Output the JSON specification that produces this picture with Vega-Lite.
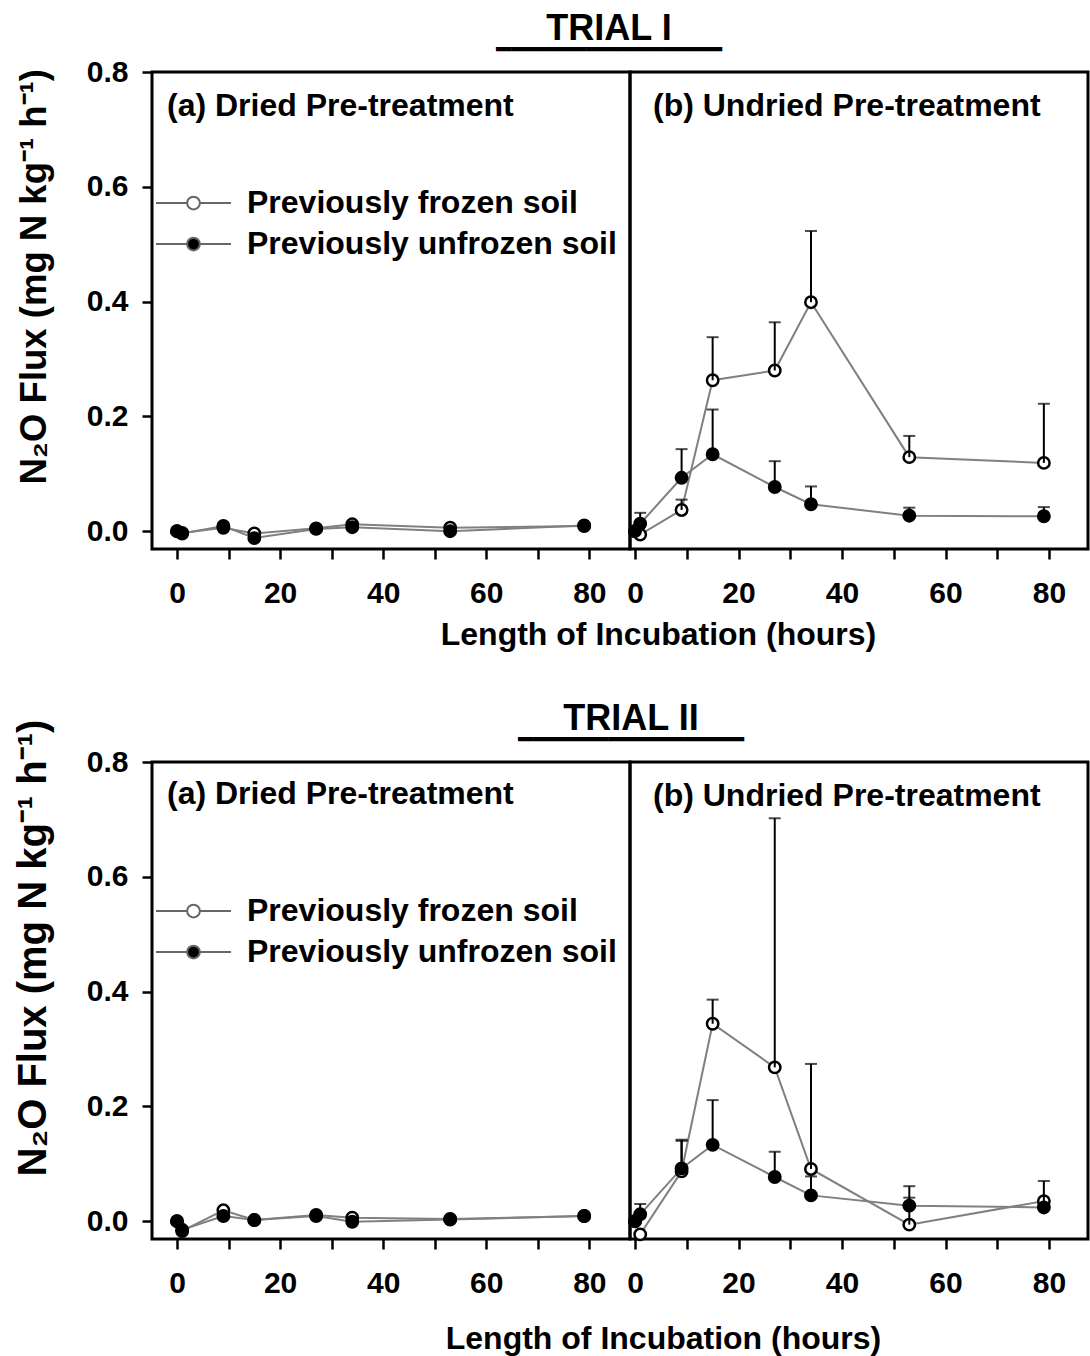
{
  "$schema": "https://vega.github.io/schema/vega-lite/v6.json",
  "padding": {"left": 11, "top": 10, "right": 0, "bottom": 0},
  "data": {
    "values": [
      {"trial": "I", "pre": "Dried", "soil": "Previously frozen soil", "hr": 0, "flux": 0.0, "upper": null},
      {"trial": "I", "pre": "Dried", "soil": "Previously frozen soil", "hr": 1, "flux": -0.003, "upper": null},
      {"trial": "I", "pre": "Dried", "soil": "Previously frozen soil", "hr": 9, "flux": 0.006, "upper": null},
      {"trial": "I", "pre": "Dried", "soil": "Previously frozen soil", "hr": 15, "flux": -0.004, "upper": null},
      {"trial": "I", "pre": "Dried", "soil": "Previously frozen soil", "hr": 27, "flux": 0.005, "upper": null},
      {"trial": "I", "pre": "Dried", "soil": "Previously frozen soil", "hr": 34, "flux": 0.012, "upper": null},
      {"trial": "I", "pre": "Dried", "soil": "Previously frozen soil", "hr": 53, "flux": 0.006, "upper": null},
      {"trial": "I", "pre": "Dried", "soil": "Previously frozen soil", "hr": 79, "flux": 0.009, "upper": null},
      {"trial": "I", "pre": "Dried", "soil": "Previously unfrozen soil", "hr": 0, "flux": 0.0, "upper": null},
      {"trial": "I", "pre": "Dried", "soil": "Previously unfrozen soil", "hr": 1, "flux": -0.004, "upper": null},
      {"trial": "I", "pre": "Dried", "soil": "Previously unfrozen soil", "hr": 9, "flux": 0.009, "upper": null},
      {"trial": "I", "pre": "Dried", "soil": "Previously unfrozen soil", "hr": 15, "flux": -0.012, "upper": null},
      {"trial": "I", "pre": "Dried", "soil": "Previously unfrozen soil", "hr": 27, "flux": 0.004, "upper": null},
      {"trial": "I", "pre": "Dried", "soil": "Previously unfrozen soil", "hr": 34, "flux": 0.007, "upper": null},
      {"trial": "I", "pre": "Dried", "soil": "Previously unfrozen soil", "hr": 53, "flux": 0.0, "upper": null},
      {"trial": "I", "pre": "Dried", "soil": "Previously unfrozen soil", "hr": 79, "flux": 0.01, "upper": null},
      {"trial": "I", "pre": "Undried", "soil": "Previously frozen soil", "hr": 0, "flux": 0.0, "upper": null},
      {"trial": "I", "pre": "Undried", "soil": "Previously frozen soil", "hr": 1, "flux": -0.006, "upper": null},
      {"trial": "I", "pre": "Undried", "soil": "Previously frozen soil", "hr": 9, "flux": 0.037, "upper": 0.055},
      {"trial": "I", "pre": "Undried", "soil": "Previously frozen soil", "hr": 15, "flux": 0.263, "upper": 0.338},
      {"trial": "I", "pre": "Undried", "soil": "Previously frozen soil", "hr": 27, "flux": 0.28, "upper": 0.364},
      {"trial": "I", "pre": "Undried", "soil": "Previously frozen soil", "hr": 34, "flux": 0.399, "upper": 0.523},
      {"trial": "I", "pre": "Undried", "soil": "Previously frozen soil", "hr": 53, "flux": 0.129, "upper": 0.166},
      {"trial": "I", "pre": "Undried", "soil": "Previously frozen soil", "hr": 79, "flux": 0.119, "upper": 0.222},
      {"trial": "I", "pre": "Undried", "soil": "Previously unfrozen soil", "hr": 0, "flux": 0.0, "upper": null},
      {"trial": "I", "pre": "Undried", "soil": "Previously unfrozen soil", "hr": 1, "flux": 0.013, "upper": 0.032},
      {"trial": "I", "pre": "Undried", "soil": "Previously unfrozen soil", "hr": 9, "flux": 0.093, "upper": 0.143},
      {"trial": "I", "pre": "Undried", "soil": "Previously unfrozen soil", "hr": 15, "flux": 0.134, "upper": 0.212},
      {"trial": "I", "pre": "Undried", "soil": "Previously unfrozen soil", "hr": 27, "flux": 0.077, "upper": 0.122},
      {"trial": "I", "pre": "Undried", "soil": "Previously unfrozen soil", "hr": 34, "flux": 0.047, "upper": 0.078},
      {"trial": "I", "pre": "Undried", "soil": "Previously unfrozen soil", "hr": 53, "flux": 0.027, "upper": 0.041},
      {"trial": "I", "pre": "Undried", "soil": "Previously unfrozen soil", "hr": 79, "flux": 0.026, "upper": 0.042},
      {"trial": "II", "pre": "Dried", "soil": "Previously frozen soil", "hr": 0, "flux": 0.0, "upper": null},
      {"trial": "II", "pre": "Dried", "soil": "Previously frozen soil", "hr": 1, "flux": -0.017, "upper": null},
      {"trial": "II", "pre": "Dried", "soil": "Previously frozen soil", "hr": 9, "flux": 0.019, "upper": null},
      {"trial": "II", "pre": "Dried", "soil": "Previously frozen soil", "hr": 15, "flux": 0.002, "upper": null},
      {"trial": "II", "pre": "Dried", "soil": "Previously frozen soil", "hr": 27, "flux": 0.011, "upper": null},
      {"trial": "II", "pre": "Dried", "soil": "Previously frozen soil", "hr": 34, "flux": 0.006, "upper": null},
      {"trial": "II", "pre": "Dried", "soil": "Previously frozen soil", "hr": 53, "flux": 0.004, "upper": null},
      {"trial": "II", "pre": "Dried", "soil": "Previously frozen soil", "hr": 79, "flux": 0.009, "upper": null},
      {"trial": "II", "pre": "Dried", "soil": "Previously unfrozen soil", "hr": 0, "flux": 0.0, "upper": null},
      {"trial": "II", "pre": "Dried", "soil": "Previously unfrozen soil", "hr": 1, "flux": -0.015, "upper": null},
      {"trial": "II", "pre": "Dried", "soil": "Previously unfrozen soil", "hr": 9, "flux": 0.009, "upper": null},
      {"trial": "II", "pre": "Dried", "soil": "Previously unfrozen soil", "hr": 15, "flux": 0.002, "upper": null},
      {"trial": "II", "pre": "Dried", "soil": "Previously unfrozen soil", "hr": 27, "flux": 0.009, "upper": null},
      {"trial": "II", "pre": "Dried", "soil": "Previously unfrozen soil", "hr": 34, "flux": -0.001, "upper": null},
      {"trial": "II", "pre": "Dried", "soil": "Previously unfrozen soil", "hr": 53, "flux": 0.003, "upper": null},
      {"trial": "II", "pre": "Dried", "soil": "Previously unfrozen soil", "hr": 79, "flux": 0.009, "upper": null},
      {"trial": "II", "pre": "Undried", "soil": "Previously frozen soil", "hr": 0, "flux": 0.0, "upper": null},
      {"trial": "II", "pre": "Undried", "soil": "Previously frozen soil", "hr": 1, "flux": -0.023, "upper": null},
      {"trial": "II", "pre": "Undried", "soil": "Previously frozen soil", "hr": 9, "flux": 0.087, "upper": 0.142},
      {"trial": "II", "pre": "Undried", "soil": "Previously frozen soil", "hr": 15, "flux": 0.344, "upper": 0.386},
      {"trial": "II", "pre": "Undried", "soil": "Previously frozen soil", "hr": 27, "flux": 0.268, "upper": 0.702},
      {"trial": "II", "pre": "Undried", "soil": "Previously frozen soil", "hr": 34, "flux": 0.091, "upper": 0.274},
      {"trial": "II", "pre": "Undried", "soil": "Previously frozen soil", "hr": 53, "flux": -0.006, "upper": 0.061},
      {"trial": "II", "pre": "Undried", "soil": "Previously frozen soil", "hr": 79, "flux": 0.035, "upper": 0.07},
      {"trial": "II", "pre": "Undried", "soil": "Previously unfrozen soil", "hr": 0, "flux": 0.0, "upper": null},
      {"trial": "II", "pre": "Undried", "soil": "Previously unfrozen soil", "hr": 1, "flux": 0.012, "upper": 0.03},
      {"trial": "II", "pre": "Undried", "soil": "Previously unfrozen soil", "hr": 9, "flux": 0.092, "upper": 0.14},
      {"trial": "II", "pre": "Undried", "soil": "Previously unfrozen soil", "hr": 15, "flux": 0.133, "upper": 0.211},
      {"trial": "II", "pre": "Undried", "soil": "Previously unfrozen soil", "hr": 27, "flux": 0.077, "upper": 0.121},
      {"trial": "II", "pre": "Undried", "soil": "Previously unfrozen soil", "hr": 34, "flux": 0.045, "upper": 0.078},
      {"trial": "II", "pre": "Undried", "soil": "Previously unfrozen soil", "hr": 53, "flux": 0.027, "upper": 0.041},
      {"trial": "II", "pre": "Undried", "soil": "Previously unfrozen soil", "hr": 79, "flux": 0.024, "upper": null}
    ]
  },
  "spacing": 690,
  "bounds": "flush",
  "resolve": {"scale": {"fill": "independent"}, "legend": {"fill": "independent"}},
  "vconcat": [
    {
      "title": {"text": "TRIAL I", "subtitle": "━━━━━━━━━━━━━━━", "anchor": "middle", "frame": "group", "dx": 457, "offset": -8, "fontSize": 36, "subtitleFont": "DejaVu Sans", "subtitleFontSize": 25, "subtitleColor": "black", "subtitlePadding": -10},
      "spacing": 0,
      "bounds": "flush",
      "resolve": {"scale": {"fill": "independent"}, "legend": {"fill": "independent"}},
      "hconcat": [
        {
          "width": 478,
          "height": 477,
          "title": {"text": "(a)  Dried Pre-treatment", "anchor": "start", "frame": "group", "dx": 15, "offset": -66},
          "transform": [{"filter": "datum.trial === 'I' && datum.pre === 'Dried'"}],
          "encoding": {
            "x": {"field": "hr", "type": "quantitative", "scale": {"domain": [-4.85, 87.89], "nice": false, "zero": false},
              "axis": {"values": [0, 10, 20, 30, 40, 50, 60, 70, 80], "labelExpr": "datum.value % 20 === 0 ? datum.label : ''", "title": "Length of Incubation (hours)", "titleX": 506, "titleY": 85, "titleAlign": "center", "titleBaseline": "middle"}},
            "y": {"field": "flux", "type": "quantitative", "scale": {"domain": [-0.031, 0.8], "nice": false, "zero": false},
              "axis": {"values": [0, 0.2, 0.4, 0.6, 0.8], "format": ".1f", "title": "N₂O Flux (mg N kg⁻¹ h⁻¹)", "titleX": -107, "titleY": 412, "titleAlign": "left", "titleAngle": -90, "titleBaseline": "alphabetic", "titleFontSize": 36.5}}
          },
          "layer": [
            {"mark": {"type": "line", "color": "#808080", "strokeWidth": 2}, "encoding": {"detail": {"field": "soil"}}},
            {"mark": {"type": "point", "shape": "circle", "filled": true, "size": 130, "stroke": "black", "strokeWidth": 2.5, "opacity": 1},
              "encoding": {"fill": {"field": "soil", "type": "nominal", "scale": {"domain": ["Previously frozen soil", "Previously unfrozen soil"], "range": ["white", "black"]},
                "legend": {"orient": "none", "legendX": 3, "legendY": 121}}}},
            {"transform": [{"filter": "isValid(datum.upper)"}], "mark": {"type": "rule", "color": "black", "strokeWidth": 2}, "encoding": {"y2": {"field": "upper"}}},
            {"transform": [{"filter": "isValid(datum.upper)"}], "mark": {"type": "tick", "orient": "horizontal", "color": "black", "size": 12, "thickness": 2},
              "encoding": {"y": {"field": "upper", "type": "quantitative", "scale": {"domain": [-0.031, 0.8], "nice": false, "zero": false}}}}
          ]
        },
        {
          "width": 458,
          "height": 477,
          "title": {"text": "(b) Undried Pre-treatment", "anchor": "start", "frame": "group", "dx": 23, "offset": -51},
          "transform": [{"filter": "datum.trial === 'I' && datum.pre === 'Undried'"}],
          "encoding": {
            "x": {"field": "hr", "type": "quantitative", "scale": {"domain": [-0.97, 87.53], "nice": false, "zero": false},
              "axis": {"values": [0, 10, 20, 30, 40, 50, 60, 70, 80], "labelExpr": "datum.value % 20 === 0 ? datum.label : ''", "title": null}},
            "y": {"field": "flux", "type": "quantitative", "scale": {"domain": [-0.031, 0.8], "nice": false, "zero": false}, "axis": null}
          },
          "layer": [
            {"mark": {"type": "line", "color": "#808080", "strokeWidth": 2}, "encoding": {"detail": {"field": "soil"}}},
            {"mark": {"type": "point", "shape": "circle", "filled": true, "size": 130, "stroke": "black", "strokeWidth": 2.5, "opacity": 1},
              "encoding": {"fill": {"field": "soil", "type": "nominal", "scale": {"domain": ["Previously frozen soil", "Previously unfrozen soil"], "range": ["white", "black"]}, "legend": null}}},
            {"transform": [{"filter": "isValid(datum.upper)"}], "mark": {"type": "rule", "color": "black", "strokeWidth": 2}, "encoding": {"y2": {"field": "upper"}}},
            {"transform": [{"filter": "isValid(datum.upper)"}], "mark": {"type": "tick", "orient": "horizontal", "color": "black", "size": 12, "thickness": 2},
              "encoding": {"y": {"field": "upper", "type": "quantitative", "scale": {"domain": [-0.031, 0.8], "nice": false, "zero": false}, "axis": null}}}
          ]
        }
      ]
    },
    {
      "title": {"text": "TRIAL II", "subtitle": "━━━━━━━━━━━━━━━", "anchor": "middle", "frame": "group", "dx": 479, "offset": -36, "fontSize": 36, "subtitleFont": "DejaVu Sans", "subtitleFontSize": 25, "subtitleColor": "black", "subtitlePadding": -10},
      "spacing": 0,
      "bounds": "flush",
      "resolve": {"scale": {"fill": "independent"}, "legend": {"fill": "independent"}},
      "hconcat": [
        {
          "width": 478,
          "height": 477,
          "title": {"text": "(a)  Dried Pre-treatment", "anchor": "start", "frame": "group", "dx": 15, "offset": -92},
          "transform": [{"filter": "datum.trial === 'II' && datum.pre === 'Dried'"}],
          "encoding": {
            "x": {"field": "hr", "type": "quantitative", "scale": {"domain": [-4.85, 87.89], "nice": false, "zero": false},
              "axis": {"values": [0, 10, 20, 30, 40, 50, 60, 70, 80], "labelExpr": "datum.value % 20 === 0 ? datum.label : ''", "title": "Length of Incubation (hours)", "titleX": 511, "titleY": 99, "titleAlign": "center", "titleBaseline": "middle"}},
            "y": {"field": "flux", "type": "quantitative", "scale": {"domain": [-0.031, 0.8], "nice": false, "zero": false},
              "axis": {"values": [0, 0.2, 0.4, 0.6, 0.8], "format": ".1f", "title": "N₂O Flux (mg N kg⁻¹ h⁻¹)", "titleX": -107, "titleY": 414, "titleAlign": "left", "titleAngle": -90, "titleBaseline": "alphabetic", "titleFontSize": 40}}
          },
          "layer": [
            {"mark": {"type": "line", "color": "#808080", "strokeWidth": 2}, "encoding": {"detail": {"field": "soil"}}},
            {"mark": {"type": "point", "shape": "circle", "filled": true, "size": 130, "stroke": "black", "strokeWidth": 2.5, "opacity": 1},
              "encoding": {"fill": {"field": "soil", "type": "nominal", "scale": {"domain": ["Previously frozen soil", "Previously unfrozen soil"], "range": ["white", "black"]},
                "legend": {"orient": "none", "legendX": 3, "legendY": 139}}}},
            {"transform": [{"filter": "isValid(datum.upper)"}], "mark": {"type": "rule", "color": "black", "strokeWidth": 2}, "encoding": {"y2": {"field": "upper"}}},
            {"transform": [{"filter": "isValid(datum.upper)"}], "mark": {"type": "tick", "orient": "horizontal", "color": "black", "size": 12, "thickness": 2},
              "encoding": {"y": {"field": "upper", "type": "quantitative", "scale": {"domain": [-0.031, 0.8], "nice": false, "zero": false}}}}
          ]
        },
        {
          "width": 458,
          "height": 477,
          "title": {"text": "(b) Undried Pre-treatment", "anchor": "start", "frame": "group", "dx": 23, "offset": -51},
          "transform": [{"filter": "datum.trial === 'II' && datum.pre === 'Undried'"}],
          "encoding": {
            "x": {"field": "hr", "type": "quantitative", "scale": {"domain": [-0.97, 87.53], "nice": false, "zero": false},
              "axis": {"values": [0, 10, 20, 30, 40, 50, 60, 70, 80], "labelExpr": "datum.value % 20 === 0 ? datum.label : ''", "title": null}},
            "y": {"field": "flux", "type": "quantitative", "scale": {"domain": [-0.031, 0.8], "nice": false, "zero": false}, "axis": null}
          },
          "layer": [
            {"mark": {"type": "line", "color": "#808080", "strokeWidth": 2}, "encoding": {"detail": {"field": "soil"}}},
            {"mark": {"type": "point", "shape": "circle", "filled": true, "size": 130, "stroke": "black", "strokeWidth": 2.5, "opacity": 1},
              "encoding": {"fill": {"field": "soil", "type": "nominal", "scale": {"domain": ["Previously frozen soil", "Previously unfrozen soil"], "range": ["white", "black"]}, "legend": null}}},
            {"transform": [{"filter": "isValid(datum.upper)"}], "mark": {"type": "rule", "color": "black", "strokeWidth": 2}, "encoding": {"y2": {"field": "upper"}}},
            {"transform": [{"filter": "isValid(datum.upper)"}], "mark": {"type": "tick", "orient": "horizontal", "color": "black", "size": 12, "thickness": 2},
              "encoding": {"y": {"field": "upper", "type": "quantitative", "scale": {"domain": [-0.031, 0.8], "nice": false, "zero": false}, "axis": null}}}
          ]
        }
      ]
    }
  ],
  "config": {
    "font": "Liberation Sans",
    "view": {"stroke": "black", "strokeWidth": 3},
    "axis": {"domain": false, "grid": false, "tickColor": "black", "tickWidth": 2.5, "tickSize": 10, "labelFont": "Liberation Sans", "labelFontWeight": "bold", "labelFontSize": 30, "labelColor": "black", "labelFlush": false, "labelBound": false, "titleFont": "Liberation Sans", "titleFontWeight": "bold", "titleFontSize": 32, "titleColor": "black"},
    "axisX": {"labelPadding": 19},
    "axisY": {"labelPadding": 14},
    "title": {"font": "Liberation Sans", "fontWeight": "bold", "fontSize": 32, "color": "black"},
    "legend": {"title": null, "symbolType": "M-1,0L-0.17,0M0.17,0L1,0M0.17,0A0.17,0.17,0,1,1,-0.17,0A0.17,0.17,0,1,1,0.17,0Z", "symbolSize": 5625, "symbolStrokeColor": "#666666", "symbolStrokeWidth": 2, "labelFont": "Liberation Sans", "labelFontWeight": "bold", "labelFontSize": 32, "labelColor": "black", "labelOffset": 15, "labelLimit": 600, "clipHeight": 20, "rowPadding": 9}
  }
}
